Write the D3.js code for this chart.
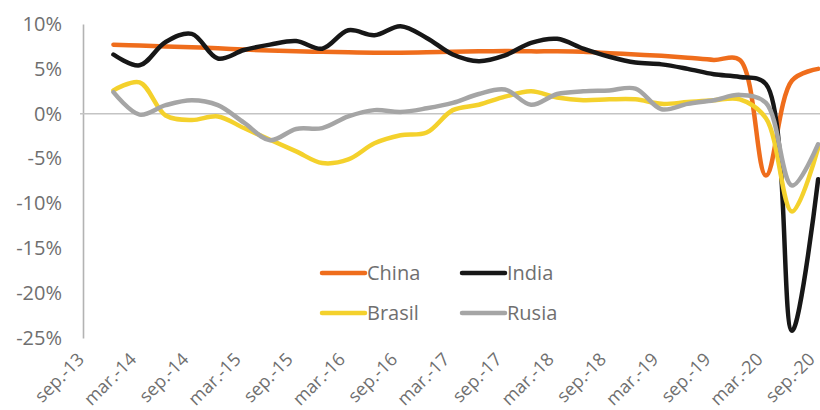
<!DOCTYPE html>
<html>
<head>
<meta charset="utf-8">
<script src="https://cdn.jsdelivr.net/npm/d3@7"></script>
<style>
  html, body { margin: 0; padding: 0; background: #ffffff; }
  svg { display: block; }
  text { font-family: "Open Sans", "Noto Sans", sans-serif; fill: #6f6f6f; }
</style>
</head>
<body>
<svg id="chart" width="820" height="410"></svg>
<script>
// Quarterly real GDP growth, year on year (%)
const quarters = [
  "dic.-13","mar.-14","jun.-14","sep.-14","dic.-14","mar.-15","jun.-15","sep.-15",
  "dic.-15","mar.-16","jun.-16","sep.-16","dic.-16","mar.-17","jun.-17","sep.-17",
  "dic.-17","mar.-18","jun.-18","sep.-18","dic.-18","mar.-19","jun.-19","sep.-19",
  "dic.-19","mar.-20","jun.-20","sep.-20"
];
const china = [7.7, 7.6, 7.5, 7.4, 7.3, 7.15, 7.05, 6.95, 6.9, 6.85, 6.8, 6.8, 6.85, 6.9,
  6.95, 7.0, 6.95, 6.95, 6.9, 6.75, 6.6, 6.45, 6.25, 6.0, 6.0, -6.9, 3.7, 5.0];
const india = [6.6, 5.4, 8.0, 8.9, 6.15, 7.1, 7.7, 8.1, 7.25, 9.3, 8.75, 9.75, 8.45, 6.6,
  5.85, 6.5, 7.9, 8.35, 7.25, 6.35, 5.7, 5.5, 5.0, 4.4, 4.1, 3.3, -24.2, -7.3];
const brasil = [2.6, 3.5, -0.2, -0.7, -0.3, -1.6, -2.9, -4.2, -5.5, -5.1, -3.3, -2.4, -2.1, 0.4,
  1.0, 1.9, 2.5, 1.8, 1.5, 1.6, 1.6, 1.1, 1.3, 1.5, 1.6, -0.5, -10.9, -3.8];
const rusia = [2.4, -0.1, 0.95, 1.5, 0.95, -1.0, -2.95, -1.7, -1.6, -0.3, 0.4, 0.2, 0.6, 1.2,
  2.2, 2.7, 1.0, 2.2, 2.5, 2.6, 2.8, 0.5, 1.1, 1.5, 2.1, 1.2, -8.0, -3.4];

const seriesNames = ["China", "India", "Brasil", "Rusia"];
const seriesColors = ["#ef6d1c", "#171717", "#f4d12c", "#a5a5a5"];
const seriesValues = [china, india, brasil, rusia];

const tickLabels = ["sep.-13","mar.-14","sep.-14","mar.-15","sep.-15","mar.-16","sep.-16",
  "mar.-17","sep.-17","mar.-18","sep.-18","mar.-19","sep.-19","mar.-20","sep.-20"];
const yTicks = [10, 5, 0, -5, -10, -15, -20, -25];

// month index counted from September 2013
const monthNo = { "mar.": 2, "jun.": 5, "sep.": 8, "dic.": 11 };
function monthIndex(label) {
  const [m, y] = label.split("-");
  return (2000 + +y - 2013) * 12 + monthNo[m] - 8;
}

const svg = d3.select("#chart");
const axisX = 83;

const x = d3.scaleLinear().domain([-0.5, 84.5]).range([axisX, axisX + 85 * 8.7]);
const y = d3.scaleLinear().domain([-25, 10]).range([338, 24]);

// value axis
const yAxis = svg.append("g")
  .attr("transform", `translate(${axisX},0)`)
  .call(d3.axisLeft(y).tickValues(yTicks).tickSize(0).tickSizeOuter(0).tickPadding(21)
    .tickFormat(d => d + "%"));
yAxis.select(".domain").attr("stroke", "#b3b3b3").attr("stroke-width", 1.6);
yAxis.selectAll("text").attr("font-size", 20).attr("fill", "#6f6f6f")
  .attr("font-family", "\"Open Sans\", sans-serif");

// zero line (category axis)
svg.append("line")
  .attr("x1", axisX - 3).attr("x2", 820)
  .attr("y1", y(0)).attr("y2", y(0))
  .attr("stroke", "#c4c4c4").attr("stroke-width", 1.4);

// category labels, rotated
const xAxis = svg.append("g")
  .attr("transform", `translate(0,${y(-25)})`)
  .call(d3.axisBottom(x).tickValues(tickLabels.map(monthIndex)).tickSize(0)
    .tickFormat((d, i) => tickLabels[i]));
xAxis.select(".domain").remove();
xAxis.selectAll("text")
  .attr("font-size", 18).attr("fill", "#6f6f6f")
  .attr("font-family", "\"Open Sans\", sans-serif")
  .attr("text-anchor", "end")
  .attr("dy", "0.35em")
  .attr("transform", "translate(-7,18) rotate(-45)")
  .attr("y", 0).attr("x", 0);

// series lines
const line = d3.line()
  .x((d, i) => x(monthIndex(quarters[i])))
  .y(d => y(d))
  .curve(d3.curveCatmullRom.alpha(0.5));

seriesValues.forEach((vals, k) => {
  svg.append("path")
    .datum(vals)
    .attr("d", line)
    .attr("fill", "none")
    .attr("stroke", seriesColors[k])
    .attr("stroke-width", 4.5)
    .attr("stroke-linejoin", "round")
    .attr("stroke-linecap", "round");
});

// legend, two rows
const legendPos = [[322, 273], [462, 273], [322, 313], [462, 313]];
seriesNames.forEach((name, k) => {
  const [lx, ly] = legendPos[k];
  const g = svg.append("g").attr("transform", `translate(${lx},${ly})`);
  g.append("line").attr("x1", 0).attr("x2", 43).attr("y1", 0).attr("y2", 0)
    .attr("stroke", seriesColors[k]).attr("stroke-width", 4.5).attr("stroke-linecap", "round");
  g.append("text").attr("x", 45).attr("y", 0).attr("dy", "0.35em")
    .attr("font-size", 20).text(name);
});
</script>
</body>
</html>
